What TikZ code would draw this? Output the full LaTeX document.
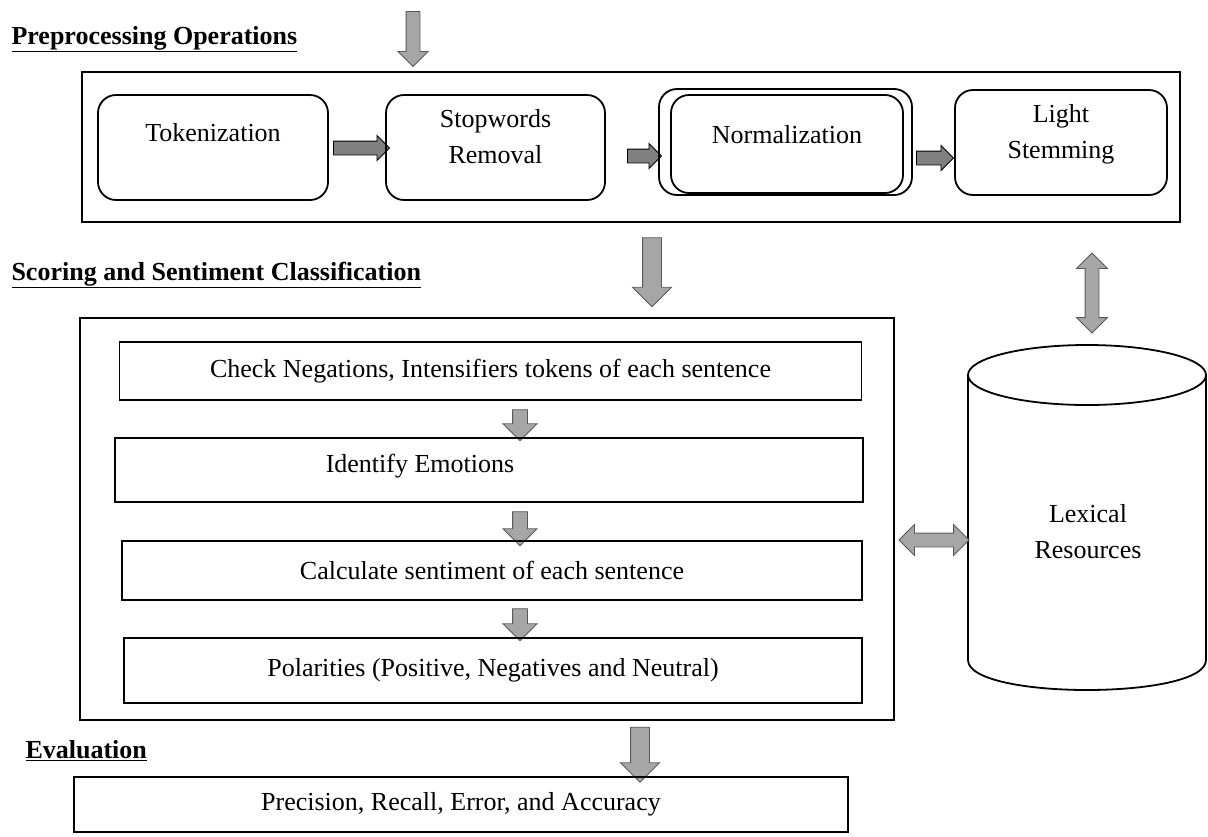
\documentclass[tikz,border=0pt]{standalone}
\usepackage{fontspec}
\setmainfont{Liberation Serif}
\usetikzlibrary{shapes.arrows}

\tikzset{
  every node/.style={font=\fontsize{26}{32}\selectfont},
  frame/.style={draw, line width=1.8pt},
  procbox/.style={draw, line width=1.8pt, rounded corners=18pt, minimum height=105pt},
  stepbox/.style={draw, line width=1.8pt, minimum height=58pt},
  heading/.style={anchor=base west, font=\fontsize{26}{32}\selectfont\bfseries},
  downarrow/.style={single arrow, rotate=-90, draw=gray!70!black, fill=gray!70, line width=0.9pt,
    inner xsep=0pt, inner ysep=#1, minimum width=0pt},
  rowarrow/.style={single arrow, draw=black, fill=gray, line width=0.9pt,
    inner xsep=0pt, inner ysep=6.5pt, minimum width=0pt, single arrow head extend=5.5pt},
  linkarrow/.style={double arrow, draw=gray!70!black, fill=gray!70, line width=0.9pt,
    inner xsep=0pt, inner ysep=6.5pt, minimum width=0pt, double arrow head extend=8.5pt}
}

\begin{document}
\begin{tikzpicture}[x=1pt, y=-1pt]
\useasboundingbox (0,0) rectangle (1208,836);

% preprocessing
\node[heading] (preh) at (8,44) {\underline{Preprocessing Operations}};
\node[downarrow=6.5pt, single arrow head extend=8pt, minimum height=55pt] (inarr) at (413,35.5) {};
\node[frame, minimum width=1098pt, minimum height=150pt] (pre) at (631,147) {};

\node[procbox, minimum width=230pt] (tok) at (213,147.5) {};
\node (tokt) at (213,133) {Tokenization};
\node[rowarrow, minimum height=56pt] (a1) at (358,148) {};
\node[procbox, minimum width=219pt] (stop) at (495.5,147.5) {};
\node[align=center] (stopt) at (495.5,137) {Stopwords\\[4pt]Removal};
\node[rowarrow, minimum height=34pt] (a2) at (641,156) {};
\node[procbox, minimum width=253pt, minimum height=106pt] (normo) at (785.5,142) {};
\node[procbox, minimum width=232pt, minimum height=98pt] (norm) at (787,144) {};
\node (normt) at (787,135) {Normalization};
\node[rowarrow, minimum height=37pt] (a3) at (931.5,158) {};
\node[procbox, minimum width=212pt] (stem) at (1061,142.5) {};
\node[align=center] (stemt) at (1061,134) {Light\\[4pt]Stemming};

% scoring
\node[heading] (scoreh) at (8,280) {\underline{Scoring and Sentiment Classification}};
\node[downarrow=9pt, single arrow head extend=10pt, minimum height=69pt] (a4) at (652,267.5) {};
\node[frame, minimum width=814pt, minimum height=402pt] (score) at (487,519) {};

\node[stepbox, minimum width=742pt] (neg) at (490.5,371) {Check Negations, Intensifiers tokens of each sentence};
\node[downarrow=7pt, single arrow head extend=9.5pt, minimum height=31pt] (a5) at (520,421.5) {};
\node[stepbox, minimum width=748pt, minimum height=64pt] (emo) at (489,470) {};
\node (emot) at (420,466) {Identify Emotions};
\node[downarrow=7pt, single arrow head extend=9.5pt, minimum height=34pt] (a6) at (520,525) {};
\node[stepbox, minimum width=740pt, minimum height=59pt] (calc) at (492,570.5) {Calculate sentiment of each sentence};
\node[downarrow=7pt, single arrow head extend=9.5pt, minimum height=32pt] (a7) at (520,621) {};
\node[stepbox, minimum width=738pt, minimum height=65pt] (pol) at (493,670.5) {Polarities (Positive, Negatives and Neutral)};

% lexical resources
\draw[line width=1.8pt] (1087,375) ellipse [x radius=119, y radius=30];
\draw[line width=1.8pt] (968,375) -- (968,660) .. controls (968,700) and (1206,700) .. (1206,660) -- (1206,375);
\node[align=center] (lex) at (1088,532) {Lexical\\[4pt]Resources};
\node[linkarrow, rotate=90, minimum height=80pt] (a8) at (1092,293) {};
\node[linkarrow, minimum height=70pt] (a9) at (934,540) {};

% evaluation
\node[heading] (evalh) at (22,758) {\underline{Evaluation}};
\node[downarrow=9pt, single arrow head extend=10pt, minimum height=55pt] (a10) at (640,750) {};
\node[stepbox, minimum width=774pt, minimum height=55pt] (eval) at (461,804.5) {Precision, Recall, Error, and Accuracy};
\end{tikzpicture}
\end{document}
